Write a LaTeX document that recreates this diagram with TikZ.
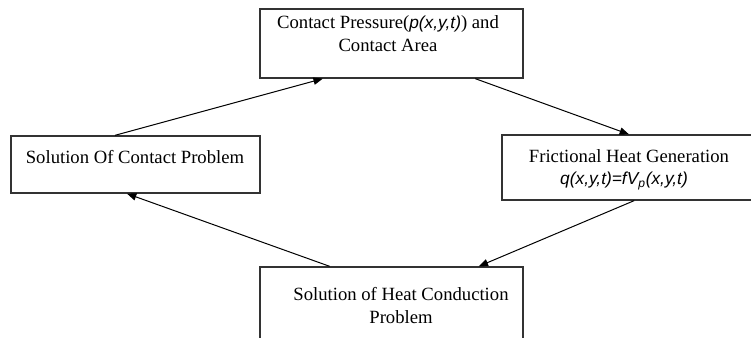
\documentclass[tikz,border=0pt]{standalone}
\usepackage{fontspec}
\setmainfont{Liberation Serif}
\newfontfamily\arialfont{Liberation Sans}
\usetikzlibrary{arrows.meta,fit,calc}
\newcommand{\va}[1]{{\arialfont\itshape\fontsize{13}{15}\selectfont #1}}

\tikzset{
  box/.style={draw=black!80, line width=1pt, inner sep=0pt},
  txt/.style={inner sep=0pt, align=center, font=\fontsize{14}{17.25}\selectfont},
  flow/.style={-{Triangle[length=7pt,width=5.5pt]}, line width=0.75pt},
}

\begin{document}
\begin{tikzpicture}[x=0.75pt,y=0.75pt,yscale=-1,xscale=1]
\useasboundingbox (0,0) rectangle (751,338);

%Shape: Rectangle [pressure]
\node[box, fit={(260,9) (523,78)}] (pressure) {};
%Shape: Rectangle [heat generation]
\node[box, fit={(502,135) (758,200)}] (heatgen) {};
%Shape: Rectangle [heat conduction]
\node[box, fit={(260,267) (523,352)}] (conduction) {};
%Shape: Rectangle [contact problem]
\node[box, fit={(11,136) (260,193)}] (contact) {};

% Text Node
\node[txt] (pressuretext) at (388,34) {Contact Pressure(\va{p(x,y,t)}) and\\Contact Area};
% Text Node
\node[txt] (heatgentext) at (629,156) {Frictional Heat Generation};
% Text Node
\node[txt] (heatgenformula) at (624,181) {\va{q(x,y,t)=fV\textsubscript{p}(x,y,t)}};
% Text Node
\node[txt] (conductiontext) at (401,306) {Solution of Heat Conduction\\Problem};
% Text Node
\node[txt] (contacttext) at (135,157) {Solution Of Contact Problem};

%Straight Lines
\draw[flow] ($(contact.north west)!0.418!(contact.north east)$) -- ($(pressure.south west)!0.24!(pressure.south east)$);
\draw[flow] ($(pressure.south west)!0.817!(pressure.south east)$) -- ($(heatgen.north west)!0.496!(heatgen.north east)$);
\draw[flow] ($(heatgen.south west)!0.516!(heatgen.south east)$) -- ($(conduction.north west)!0.83!(conduction.north east)$);
\draw[flow] ($(conduction.north west)!0.266!(conduction.north east)$) -- ($(contact.south west)!0.466!(contact.south east)$);

\end{tikzpicture}
\end{document}
